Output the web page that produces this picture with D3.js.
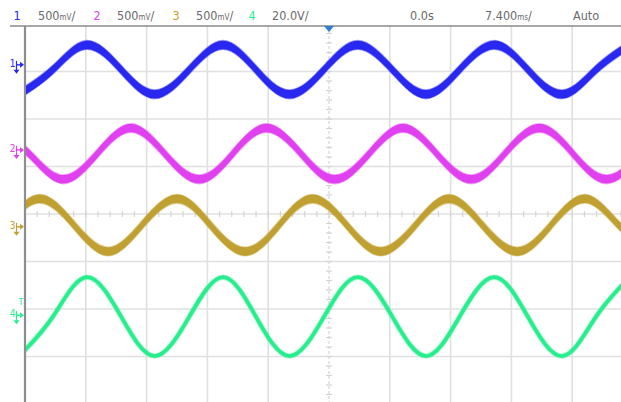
<!DOCTYPE html>
<html><head><meta charset="utf-8">
<script src="https://cdn.jsdelivr.net/npm/d3@7"></script>
<style>
html,body{margin:0;padding:0;background:#fff;}
svg{display:block;}
.hdr{font-family:"Liberation Sans Narrow","DejaVu Sans Condensed","Arial Narrow",sans-serif;font-size:12.5px;fill:#6a6a6a;}
</style></head>
<body>
<svg id="c" width="621" height="402"></svg>
<script>
// ---- data (time in ms, values in volts) ----
const channelNames = ["1","2","3","4"];
const channelColors = ["#2828f0","#e040f0","#c0a030","#26ee8c"];
const voltsPerDiv = [0.5, 0.5, 0.5, 20.0];
const offsetsDiv = [3.14, 1.35, -0.27, -2.13];

const ch1Time = [-37.7,-33.6,-29.5,-25.3,-21.2,-17.0,-12.9,-8.9,-4.8,-0.6,3.5,7.7,11.8,15.9,20.1,24.2,28.4,32.5,36.6];
const ch1Volts = [-0.31,-0.05,0.21,-0.05,-0.31,-0.05,0.21,-0.05,-0.31,-0.05,0.21,-0.05,-0.31,-0.05,0.21,-0.05,-0.31,-0.05,0.21];

const ch2Time = [-40.6,-36.5,-32.4,-28.2,-24.1,-20.0,-15.8,-11.7,-7.6,-3.4,0.7,4.9,9.0,13.1,17.3,21.4,25.6,29.7,33.8,38.0];
const ch2Volts = [0.23,-0.04,-0.31,-0.04,0.23,-0.04,-0.31,-0.04,0.23,-0.04,-0.31,-0.04,0.23,-0.04,-0.31,-0.04,0.23,-0.04,-0.31,-0.04];

const ch3Time = [-39.3,-35.2,-31.0,-26.9,-22.8,-18.5,-14.4,-10.2,-6.1,-2.0,2.2,6.3,10.5,14.6,18.7,22.9,27.0,31.2,35.3,39.4];
const ch3Volts = [0.015,0.295,0.015,-0.26,0.015,0.295,0.015,-0.26,0.015,0.295,0.015,-0.26,0.015,0.295,0.015,-0.26,0.015,0.295,0.015,-0.26];

const ch4Time = [-37.7,-33.6,-29.5,-25.3,-21.2,-17.0,-12.9,-8.9,-4.8,-0.6,3.5,7.7,11.8,15.9,20.1,24.2,28.4,32.5,36.6];
const ch4Volts = [-17.2,-0.6,16.0,-0.6,-17.2,-0.6,16.0,-0.6,-17.2,-0.6,16.0,-0.6,-17.2,-0.6,16.0,-0.6,-17.2,-0.6,16.0];

// vertical noise band height of each trace (in volts)
const noiseBand = [0.09, 0.09, 0.09, 0];

const scaleLabels = ["500mV/","500mV/","500mV/","20.0V/"];
const timeOffsetLabel = "0.0s";
const timebaseLabel = "7.400ms/";
const modeLabel = "Auto";
const msPerDiv = 7.4;

const series = [
  {t:ch1Time, v:ch1Volts},
  {t:ch2Time, v:ch2Volts},
  {t:ch3Time, v:ch3Volts},
  {t:ch4Time, v:ch4Volts}
];

// ---- drawing ----
const svg = d3.select("#c");
const x = d3.scaleLinear().domain([-5*msPerDiv, 5*msPerDiv]).range([25, 633]);
const y = d3.scaleLinear().domain([-4, 4]).range([404, 24]);
const pTop = 26, pBottom = 402, pLeft = 25, pRight = 621;

svg.append("defs").append("clipPath").attr("id","clip")
  .append("rect").attr("x",pLeft+1).attr("y",pTop).attr("width",pRight-pLeft).attr("height",pBottom-pTop);

const grid = svg.append("g");
const cx = x(0), cy = y(0);
d3.range(1, 11).forEach(i => {
  const gx = x(-5*msPerDiv + i*msPerDiv);
  if (gx > pRight) return;
  const ln = grid.append("line").attr("x1",gx).attr("x2",gx).attr("y1",pTop).attr("y2",pBottom)
    .attr("stroke","#e0e0e0").attr("stroke-width",1.6);
  if (i === 5) ln.attr("stroke-dasharray","3,2");
});
d3.range(-3, 4).forEach(j => {
  const gy = y(j);
  grid.append("line").attr("x1",pLeft).attr("x2",pRight).attr("y1",gy).attr("y2",gy)
    .attr("stroke","#e0e0e0").attr("stroke-width",1.6);
});
d3.range(-25, 26).forEach(k => {
  const tx = x(k*msPerDiv/5);
  if (tx <= pLeft || tx > pRight) return;
  grid.append("line").attr("x1",tx).attr("x2",tx).attr("y1",cy-3).attr("y2",cy+3)
    .attr("stroke","#d4d4d4").attr("stroke-width",1.2);
});
d3.range(-20, 21).forEach(k => {
  const ty = y(k/5);
  if (ty < pTop || ty > pBottom) return;
  grid.append("line").attr("x1",cx-3).attr("x2",cx+3).attr("y1",ty).attr("y2",ty)
    .attr("stroke","#d4d4d4").attr("stroke-width",1.2);
});

svg.append("line").attr("x1",pLeft).attr("x2",pLeft).attr("y1",pTop).attr("y2",pBottom)
  .attr("stroke","#8e8e8e").attr("stroke-width",2.2);
svg.append("line").attr("x1",10).attr("x2",pRight).attr("y1",pTop).attr("y2",pTop)
  .attr("stroke","#8a8a8a").attr("stroke-width",1.6);

const traces = svg.append("g").attr("clip-path","url(#clip)");
series.forEach((s, i) => {
  const yv = (v) => y(offsetsDiv[i] + v/voltsPerDiv[i]);
  const idx = d3.range(s.t.length);
  const col = channelColors[i];
  if (noiseBand[i] > 0) {
    const h = noiseBand[i] / 2;
    const area = d3.area().curve(d3.curveNatural)
      .x(k => x(s.t[k])).y0(k => yv(s.v[k] - h)).y1(k => yv(s.v[k] + h));
    traces.append("path").attr("d", area(idx)).attr("fill", col)
      .attr("stroke", col).attr("stroke-opacity", 0.45).attr("stroke-width", 1.6);
  } else {
    const line = d3.line().curve(d3.curveNatural).x(k => x(s.t[k])).y(k => yv(s.v[k]));
    traces.append("path").attr("d", line(idx)).attr("fill","none")
      .attr("stroke", col).attr("stroke-opacity",0.35).attr("stroke-width", 5.5);
    traces.append("path").attr("d", line(idx)).attr("fill","none")
      .attr("stroke", col).attr("stroke-width", 3.8);
  }
});

channelNames.forEach((n, i) => {
  const my = y(offsetsDiv[i]);
  const col = channelColors[i];
  const g = svg.append("g");
  g.append("text").attr("x",12.5).attr("y",my+2).attr("text-anchor","middle")
    .attr("font-family","DejaVu Sans Condensed, sans-serif").attr("font-size",10).attr("fill",col).text(n);
  g.append("line").attr("x1",17).attr("x2",21).attr("y1",my).attr("y2",my).attr("stroke",col).attr("stroke-width",1.4);
  g.append("path").attr("d",`M20,${my-3}L24,${my}L20,${my+3}Z`).attr("fill",col);
  g.append("line").attr("x1",16.5).attr("x2",16.5).attr("y1",my-4).attr("y2",my+6).attr("stroke",col).attr("stroke-width",1.2);
  g.append("path").attr("d",`M13.5,${my+5}L19.5,${my+5}L16.5,${my+9}Z`).attr("fill",col);
});
const ty4 = y(offsetsDiv[3]) - 13;
svg.append("text").attr("x",21).attr("y",ty4+3).attr("text-anchor","middle")
  .attr("font-family","DejaVu Sans Condensed, sans-serif").attr("font-size",9).attr("fill",channelColors[3]).text("T");

svg.append("path").attr("d",`M${cx-5},${pTop}L${cx+5},${pTop}L${cx},${pTop+6}Z`).attr("fill","#2b7fd8");

const hdr = svg.append("g").attr("class","hdr");
const numX = [17, 97, 176, 252];
const lblX = [38, 117, 196, 272];
channelNames.forEach((n, i) => {
  hdr.append("text").attr("x",numX[i]).attr("y",20).attr("text-anchor","middle")
    .style("fill", channelColors[i]).text(n);
  const t = hdr.append("text").attr("x",lblX[i]).attr("y",20);
  if (scaleLabels[i].indexOf("mV") >= 0) {
    t.append("tspan").text("500");
    t.append("tspan").attr("font-size",8).text("mV");
    t.append("tspan").text("/");
  } else {
    t.text(scaleLabels[i]);
  }
});
hdr.append("text").attr("x",410).attr("y",20).text(timeOffsetLabel);
const tb = hdr.append("text").attr("x",485).attr("y",20);
tb.append("tspan").text("7.400");
tb.append("tspan").attr("font-size",8).text("ms");
tb.append("tspan").text("/");
hdr.append("text").attr("x",573).attr("y",20).text(modeLabel);
</script>
</body></html>
